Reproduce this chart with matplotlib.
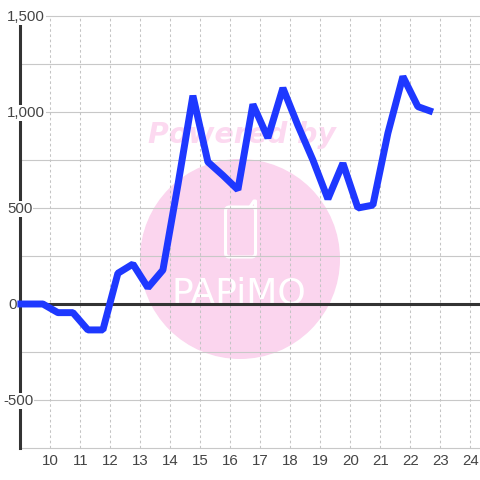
import matplotlib
matplotlib.use('Agg')
import matplotlib.pyplot as plt
from matplotlib.patches import Circle, FancyBboxPatch

# half hour readings
hours = [8.9, 9.75, 10.25, 10.75, 11.25, 11.75, 12.25, 12.75, 13.25, 13.75, 14.25, 14.75,
         15.25, 15.75, 16.25, 16.75, 17.25, 17.75, 18.25, 18.75, 19.25, 19.75, 20.25,
         20.75, 21.25, 21.75, 22.25, 22.75]
values = [0, 0, -45, -45, -135, -135, 160, 208, 85, 177, 620, 1085,
          740, 670, 595, 1040, 865, 1125, 930, 750, 547, 733, 500,
          515, 890, 1185, 1028, 1000]
x_ticks = list(range(10, 25))
y_labels = {1500: '1,500', 1000: '1,000', 500: '500', 0: '0', -500: '-500'}
y_minor = [1250, 750, 250, -250]

fig = plt.figure(figsize=(4.8, 4.8), dpi=100)
plt.rcParams['font.family'] = ['Liberation Sans', 'DejaVu Sans']

# watermark, in pixel coordinates behind the chart
bg = fig.add_axes([0, 0, 1, 1], zorder=0)
bg.set_xlim(0, 480)
bg.set_ylim(480, 0)
bg.axis('off')
pink = '#fbd5ee'
bg.add_patch(Circle((240, 259), 100, color=pink, lw=0))
bg.text(242, 135, 'Powered by', color='#fcd9f0', fontsize=20.4, fontweight='bold', fontstyle='italic',
        ha='center', va='center', family='DejaVu Sans')
bg.add_patch(FancyBboxPatch((225.5, 207), 30, 50, boxstyle='round,pad=0,rounding_size=4',
                            fc='none', ec='white', lw=2.2))
bg.plot([250, 254, 255.5, 255.5], [207, 201, 201, 210], color='white', lw=2.2)
bg.text(239, 304, 'PAPiMO', color='white', fontsize=26, ha='center', va='baseline',
        family='DejaVu Sans')

# chart, left edge at x=9 and y from -750 to 1500
ax = fig.add_axes([20.4 / 480, 32 / 480, 459.6 / 480, 432 / 480], zorder=1)
ax.patch.set_alpha(0)
ax.set_xlim(9, 9 + 459.6 / 30)
ax.set_ylim(-750, 1500)
for s in ax.spines.values():
    s.set_visible(False)

for v in list(y_labels) + y_minor + [-750]:
    ax.axhline(v, color='#c8c8c8', lw=0.8, zorder=1, clip_on=False)
ax.vlines(x_ticks, -750, 1500, color='#c4c4c4', lw=0.75, linestyles=(0, (2.5, 2.5)), zorder=1)
ax.axvline(9, color='#333333', lw=2.2, zorder=2, clip_on=False)
ax.axhline(0, color='#333333', lw=2.2, zorder=2, clip_on=False)
ax.plot(hours, values, color='#1e38ff', lw=5, solid_joinstyle='bevel',
        solid_capstyle='butt', clip_on=False, zorder=3)

ax.set_xticks(x_ticks)
ax.set_yticks([])
ax.tick_params(axis='x', length=0, labelsize=10.8, labelcolor='#444444', pad=4.5)

for v, label in y_labels.items():
    bg_box = dict(fc='white', ec='none', pad=0.8)
    px = 3 if v < 0 else (8 if v == 0 else 7)
    ax.annotate(label, xy=(0, v), xycoords=('axes fraction', 'data'),
                xytext=(px - 20.4, -1), textcoords='offset pixels', ha='left', va='center',
                fontsize=10.8, color='#444444', bbox=bg_box, zorder=2.5, annotation_clip=False)

fig.savefig('out.png', dpi=100, facecolor='white')
